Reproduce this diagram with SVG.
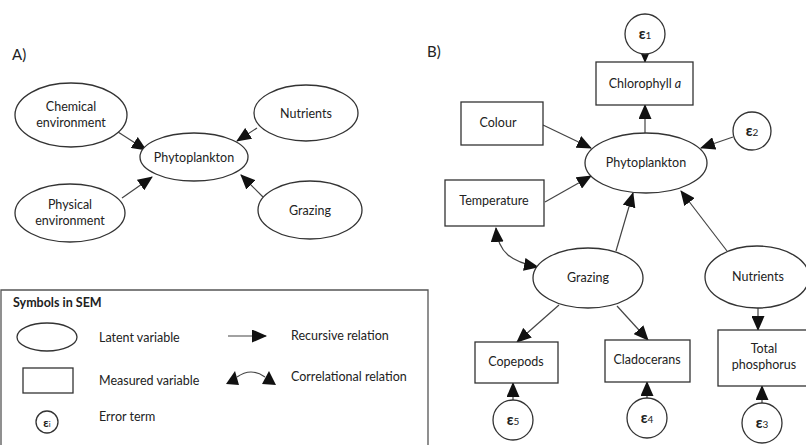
<svg xmlns="http://www.w3.org/2000/svg" width="806" height="445" viewBox="0 0 806 445">
<defs>
<marker id="ah" markerUnits="userSpaceOnUse" markerWidth="15" markerHeight="13" viewBox="0 0 15 13" refX="14" refY="6.5" orient="auto-start-reverse">
<path d="M0,0 L15,6.5 L0,13 Z" fill="#111"/>
</marker>
</defs>
<style>
text{font-family:Lato,"Open Sans","Liberation Sans",sans-serif;font-size:12.5px;fill:#222;text-anchor:middle}
.lbl{text-anchor:start}
.big{font-size:15px;text-anchor:start}
.bold{font-weight:bold;text-anchor:start}
ellipse,rect,circle{fill:#fff;stroke:#333;stroke-width:1.3}
#connectors line,#connectors path{stroke:#444;stroke-width:1.2;fill:none;marker-end:url(#ah)}
.eps{font-size:15px;font-weight:bold}
.sub{font-size:10px;font-weight:normal}
.head{fill:#111;stroke:none}
</style>
<rect width="806" height="445" style="fill:#fff;stroke:none"/>

<text class="big" x="12" y="60">A)</text>
<text class="big" x="427" y="57">B)</text>

<!-- Legend -->
<g id="legend">
<path d="M1,445 V290 H428 V445" fill="none" stroke="#555" stroke-width="1.3"/>
<text class="bold" x="13" y="307">Symbols in SEM</text>
<ellipse cx="47" cy="337" rx="30" ry="14"/>
<text class="lbl" x="99" y="342">Latent variable</text>
<line x1="228" y1="336" x2="266" y2="336" stroke="#444" stroke-width="1.2" marker-end="url(#ah)"/>
<text class="lbl" x="291" y="340">Recursive relation</text>
<rect x="23" y="368" width="50" height="25"/>
<text class="lbl" x="99" y="385">Measured variable</text>
<path d="M237,377 Q251,367 265,377" fill="none" stroke="#444" stroke-width="1.2"/>
<polygon class="head" points="226,384 235,371 239,385"/>
<polygon class="head" points="262,384 269,371 276,385"/>
<text class="lbl" x="291" y="381">Correlational relation</text>
<circle cx="47" cy="422" r="11"/>
<text x="47" y="427" style="font-size:12px;font-weight:bold">ε<tspan style="font-size:8px;font-weight:normal">i</tspan></text>
<text class="lbl" x="99" y="421">Error term</text>
</g>

<!-- Connectors -->
<g id="connectors">
<!-- Panel A -->
<line x1="118" y1="132" x2="146" y2="150"/>
<line x1="257" y1="128" x2="237" y2="141"/>
<line x1="122" y1="198" x2="152" y2="177"/>
<line x1="263" y1="197" x2="241" y2="175"/>
<!-- Panel B -->
<line x1="645" y1="53" x2="645" y2="62"/>
<line x1="645" y1="133" x2="645" y2="105"/>
<line x1="543" y1="125" x2="591" y2="148"/>
<line x1="733" y1="137" x2="701" y2="148"/>
<line x1="545" y1="202" x2="591" y2="176"/>
<line x1="616" y1="251" x2="633" y2="193"/>
<line x1="727" y1="251" x2="681" y2="191"/>
<path d="M496,228 C498,253 512,262 538,267" marker-start="url(#ah)"/>
<line x1="559" y1="305" x2="517" y2="342"/>
<line x1="617" y1="306" x2="648" y2="340"/>
<line x1="758" y1="308" x2="758" y2="330"/>
<line x1="513" y1="400" x2="513" y2="383"/>
<line x1="647" y1="398" x2="647" y2="382"/>
<line x1="762" y1="403" x2="762" y2="386"/>
</g>

<!-- Panel A nodes -->
<g id="a-chemical"><ellipse cx="71" cy="115" rx="56" ry="32"/><text x="71" y="111">Chemical</text><text x="71" y="127">environment</text></g>
<g id="a-nutrients"><ellipse cx="306" cy="113" rx="52" ry="28"/><text x="306" y="118">Nutrients</text></g>
<g id="a-phyto"><ellipse cx="194" cy="157" rx="54" ry="24"/><text x="194" y="162">Phytoplankton</text></g>
<g id="a-physical"><ellipse cx="70" cy="213" rx="55" ry="29"/><text x="70" y="209">Physical</text><text x="70" y="225">environment</text></g>
<g id="a-grazing"><ellipse cx="310" cy="210" rx="52" ry="29"/><text x="310" y="215">Grazing</text></g>

<!-- Panel B nodes -->
<g id="b-e1"><circle cx="645" cy="34" r="20"/><text class="eps" x="645" y="39">ε<tspan class="sub">1</tspan></text></g>
<g id="b-chl"><rect x="596" y="62" width="97" height="43"/><text x="645" y="88">Chlorophyll <tspan font-style="italic">a</tspan></text></g>
<g id="b-colour"><rect x="461" y="102" width="82" height="43"/><text x="498" y="127">Colour</text></g>
<g id="b-e2"><circle cx="752" cy="131" r="19"/><text class="eps" x="752" y="136">ε<tspan class="sub">2</tspan></text></g>
<g id="b-phyto"><ellipse cx="646" cy="163" rx="61" ry="30"/><text x="646" y="167">Phytoplankton</text></g>
<g id="b-temp"><rect x="445" y="180" width="99" height="46"/><text x="494" y="205">Temperature</text></g>
<g id="b-grazing"><ellipse cx="588" cy="278" rx="55" ry="30"/><text x="588" y="282">Grazing</text></g>
<g id="b-nutrients"><ellipse cx="757" cy="277" rx="52" ry="31"/><text x="758" y="281">Nutrients</text></g>
<g id="b-copepods"><rect x="475" y="342" width="83" height="41"/><text x="516" y="366">Copepods</text></g>
<g id="b-clado"><rect x="605" y="340" width="85" height="42"/><text x="647" y="364">Cladocerans</text></g>
<g id="b-tp"><rect x="718" y="330" width="90" height="56"/><text x="764" y="353">Total</text><text x="764" y="369">phosphorus</text></g>
<g id="b-e5"><circle cx="513" cy="420" r="20"/><text class="eps" x="513" y="425">ε<tspan class="sub">5</tspan></text></g>
<g id="b-e4"><circle cx="647" cy="418" r="20"/><text class="eps" x="647" y="423">ε<tspan class="sub">4</tspan></text></g>
<g id="b-e3"><circle cx="762" cy="423" r="20"/><text class="eps" x="762" y="428">ε<tspan class="sub">3</tspan></text></g>
</svg>
